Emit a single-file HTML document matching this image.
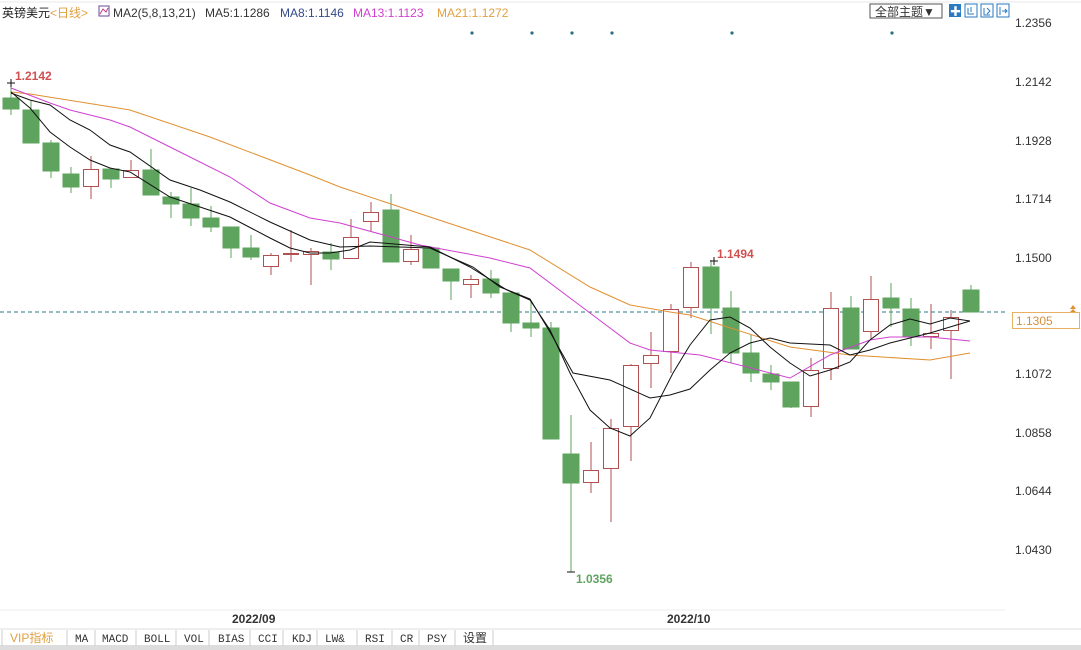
<!DOCTYPE html>
<html><head><meta charset="utf-8"><style>
html,body{margin:0;padding:0;background:#fff;}
body{width:1081px;height:650px;overflow:hidden;position:relative;font-family:"Liberation Sans","Noto Sans CJK SC",sans-serif;}
svg{position:absolute;left:0;top:0;}
</style></head><body>
<svg width="1081" height="650" viewBox="0 0 1081 650" xmlns="http://www.w3.org/2000/svg" font-family="Liberation Sans, Noto Sans CJK SC, sans-serif">
<rect x="0" y="0" width="1081" height="650" fill="#fff"/>
<line x1="0" y1="2" x2="1081" y2="2" stroke="#e8e8e8"/>
<!-- header -->
<text x="2" y="17" font-size="12" fill="#222">英镑美元</text>
<text x="50" y="17" font-size="12" fill="#e0a040">&lt;日线&gt;</text>
<rect x="99" y="6" width="10" height="10" fill="#fff" stroke="#6a4a9a"/>
<polyline points="100,14 103,9 106,12 108,8" fill="none" stroke="#c04080"/>
<text x="113" y="17" font-size="12" fill="#333">MA2(5,8,13,21)</text>
<text x="205" y="17" font-size="12" fill="#333">MA5:1.1286</text>
<text x="280" y="17" font-size="12" fill="#334a8a">MA8:1.1146</text>
<text x="353" y="17" font-size="12" fill="#d040d0">MA13:1.1123</text>
<text x="437" y="17" font-size="12" fill="#e0a040">MA21:1.1272</text>
<rect x="870" y="4" width="72" height="14" fill="#fff" stroke="#555"/>
<text x="875" y="16" font-size="12" fill="#333">全部主题▼</text>
<rect x="949" y="4" width="12" height="13" fill="#2a7ac0"/>
<text x="950" y="15" font-size="11" fill="#fff">✚</text>
<rect x="965" y="4" width="12" height="13" fill="#fff" stroke="#2a7ac0"/>
<rect x="981" y="4" width="12" height="13" fill="#fff" stroke="#2a7ac0"/>
<rect x="997" y="4" width="12" height="13" fill="#fff" stroke="#2a7ac0"/>
<path d="M968 8v6h6M971 7v5M984 8v7h6M987 8l3 3-3 3M1000 7v8M1002 11h5M1005 9l2 2-2 2" stroke="#2a7ac0" fill="none"/>
<!-- axis labels -->
<g font-size="12" fill="#333">
<text x="1015" y="27">1.2356</text>
<text x="1015" y="86">1.2142</text>
<text x="1015" y="145">1.1928</text>
<text x="1015" y="203">1.1714</text>
<text x="1015" y="262">1.1500</text>
<text x="1015" y="378">1.1072</text>
<text x="1015" y="437">1.0858</text>
<text x="1015" y="495">1.0644</text>
<text x="1015" y="554">1.0430</text>
</g>
<line x1="0" y1="312" x2="1005" y2="312" stroke="#2a7a8a" stroke-dasharray="4,3"/>
<rect x="1012.5" y="312.5" width="67" height="16" fill="#fff" stroke="#e8b060"/>
<text x="1016" y="325" font-size="12" fill="#d09040">1.1305</text>
<path d="M1070 309l3-4 3 4zM1070 312l3-3 3 3z" fill="#e09030"/>
<!-- dots -->
<g fill="#2a6a8a"><circle cx="472" cy="33" r="1.6"/><circle cx="532" cy="33" r="1.6"/><circle cx="572" cy="33" r="1.6"/><circle cx="612" cy="33" r="1.6"/><circle cx="732" cy="33" r="1.6"/><circle cx="892" cy="33" r="1.6"/></g>
<!-- candles green -->
<g fill="#5ea35e" stroke="#5ea35e">
<line x1="11" y1="82" x2="11" y2="115"/><rect x="3" y="98" width="16" height="11"/>
<line x1="31" y1="100" x2="31" y2="143"/><rect x="23" y="110" width="16" height="33"/>
<line x1="51" y1="140" x2="51" y2="178"/><rect x="43" y="143" width="16" height="28"/>
<line x1="71" y1="167" x2="71" y2="193"/><rect x="63" y="174" width="16" height="13"/>
<line x1="111" y1="169" x2="111" y2="188"/><rect x="103" y="169" width="16" height="10"/>
<line x1="151" y1="149" x2="151" y2="195"/><rect x="143" y="170" width="16" height="25"/>
<line x1="171" y1="192" x2="171" y2="218"/><rect x="163" y="197" width="16" height="7"/>
<line x1="191" y1="188" x2="191" y2="226"/><rect x="183" y="204" width="16" height="14"/>
<line x1="211" y1="206" x2="211" y2="232"/><rect x="203" y="218" width="16" height="9"/>
<line x1="231" y1="227" x2="231" y2="258"/><rect x="223" y="227" width="16" height="21"/>
<line x1="251" y1="235" x2="251" y2="260"/><rect x="243" y="248" width="16" height="9"/>
<line x1="331" y1="243" x2="331" y2="270"/><rect x="323" y="252" width="16" height="7"/>
<line x1="391" y1="194" x2="391" y2="262"/><rect x="383" y="210" width="16" height="52"/>
<line x1="431" y1="248" x2="431" y2="268"/><rect x="423" y="248" width="16" height="20"/>
<line x1="451" y1="269" x2="451" y2="300"/><rect x="443" y="269" width="16" height="12"/>
<line x1="491" y1="270" x2="491" y2="298"/><rect x="483" y="279" width="16" height="14"/>
<line x1="511" y1="292" x2="511" y2="332"/><rect x="503" y="293" width="16" height="30"/>
<line x1="531" y1="300" x2="531" y2="337"/><rect x="523" y="323" width="16" height="5"/>
<line x1="551" y1="322" x2="551" y2="439"/><rect x="543" y="328" width="16" height="111"/>
<line x1="571" y1="415" x2="571" y2="572"/><rect x="563" y="454" width="16" height="29"/>
<line x1="711" y1="260" x2="711" y2="334"/><rect x="703" y="267" width="16" height="41"/>
<line x1="731" y1="291" x2="731" y2="363"/><rect x="723" y="308" width="16" height="45"/>
<line x1="751" y1="335" x2="751" y2="382"/><rect x="743" y="353" width="16" height="20"/>
<line x1="771" y1="365" x2="771" y2="390"/><rect x="763" y="374" width="16" height="8"/>
<line x1="791" y1="382" x2="791" y2="408"/><rect x="783" y="382" width="16" height="25"/>
<line x1="851" y1="296" x2="851" y2="349"/><rect x="843" y="308" width="16" height="41"/>
<line x1="891" y1="283" x2="891" y2="327"/><rect x="883" y="298" width="16" height="10"/>
<line x1="911" y1="298" x2="911" y2="346"/><rect x="903" y="309" width="16" height="27"/>
<line x1="971" y1="285" x2="971" y2="312"/><rect x="963" y="290" width="16" height="22"/>
</g>
<!-- candles red hollow -->
<g fill="#fff" stroke="#b05050">
<line x1="91" y1="156" x2="91" y2="199"/><rect x="83.5" y="169.5" width="15" height="17"/>
<line x1="131" y1="160" x2="131" y2="178"/><rect x="123.5" y="170.5" width="15" height="7"/>
<line x1="271" y1="253" x2="271" y2="275"/><rect x="263.5" y="255.5" width="15" height="11"/>
<line x1="291" y1="230" x2="291" y2="262"/><rect x="283.5" y="253.5" width="15" height="1"/>
<line x1="311" y1="248" x2="311" y2="285"/><rect x="303.5" y="251.5" width="15" height="3"/>
<line x1="351" y1="219" x2="351" y2="259"/><rect x="343.5" y="237.5" width="15" height="21"/>
<line x1="371" y1="202" x2="371" y2="232"/><rect x="363.5" y="212.5" width="15" height="9"/>
<line x1="411" y1="235" x2="411" y2="265"/><rect x="403.5" y="249.5" width="15" height="12"/>
<line x1="471" y1="275" x2="471" y2="298"/><rect x="463.5" y="279.5" width="15" height="5"/>
<line x1="591" y1="442" x2="591" y2="493"/><rect x="583.5" y="470.5" width="15" height="12"/>
<line x1="611" y1="419" x2="611" y2="522"/><rect x="603.5" y="428.5" width="15" height="40"/>
<line x1="631" y1="364" x2="631" y2="461"/><rect x="623.5" y="365.5" width="15" height="61"/>
<line x1="651" y1="332" x2="651" y2="388"/><rect x="643.5" y="355.5" width="15" height="8"/>
<line x1="671" y1="304" x2="671" y2="373"/><rect x="663.5" y="309.5" width="15" height="42"/>
<line x1="691" y1="262" x2="691" y2="318"/><rect x="683.5" y="267.5" width="15" height="40"/>
<line x1="811" y1="358" x2="811" y2="417"/><rect x="803.5" y="370.5" width="15" height="36"/>
<line x1="831" y1="292" x2="831" y2="380"/><rect x="823.5" y="308.5" width="15" height="60"/>
<line x1="871" y1="276" x2="871" y2="339"/><rect x="863.5" y="299.5" width="15" height="32"/>
<line x1="931" y1="304" x2="931" y2="349"/><rect x="923.5" y="333.5" width="15" height="3"/>
<line x1="951" y1="310" x2="951" y2="379"/><rect x="943.5" y="317.5" width="15" height="13"/>
</g>
<!-- MAs -->
<polyline fill="none" stroke="#e09030" stroke-width="1" points="11,92 30,94 130,110 210,137 310,175 340,187 430,217 530,250 590,287 630,305 670,312 690,315 790,347 850,355 930,360 970,353"/>
<polyline fill="none" stroke="#d040d0" stroke-width="1" points="11,88 50,103 70,110 110,120 130,127 170,147 230,177 270,203 310,218 340,223 420,245 490,258 530,268 590,313 630,343 650,350 680,353 700,355 790,378 830,355 870,340 890,337 930,337 970,341"/>
<polyline fill="none" stroke="#111" stroke-width="1" points="11,93 30,100 50,105 70,120 90,130 110,145 130,152 170,180 200,190 230,202 270,222 310,240 340,247 370,246 430,248 450,257 473,267 500,287 530,299 550,332 573,373 610,380 650,398 670,395 690,389 710,370 730,353 750,343 770,338 790,343 830,345 850,355 870,350 890,343 910,338 930,333 950,327 970,321"/>
<polyline fill="none" stroke="#111" stroke-width="1" points="11,92 30,108 50,132 70,147 90,160 110,168 130,172 170,197 230,217 270,238 290,248 310,253 330,253 350,250 370,242 430,247 470,267 507,290 530,300 550,330 570,373 590,410 610,428 630,436 650,418 673,373 690,345 710,320 730,317 750,328 770,347 790,363 810,376 830,370 850,362 870,340 890,325 910,319 930,324 950,318 970,321"/>
<!-- markers -->
<path d="M7 83h8M11 79v8M567 572h8M710 261h8M714 257v8" stroke="#111"/>
<text x="15" y="80" font-size="12" font-weight="bold" fill="#d05050">1.2142</text>
<text x="717" y="258" font-size="12" font-weight="bold" fill="#d05050">1.1494</text>
<text x="576" y="583" font-size="12" font-weight="bold" fill="#5ea35e">1.0356</text>
<!-- date axis -->
<line x1="0" y1="610" x2="1005" y2="610" stroke="#eee"/>
<line x1="0" y1="629" x2="1081" y2="629" stroke="#ddd"/>
<text x="232" y="623" font-size="12" font-weight="bold" fill="#333">2022/09</text>
<text x="667" y="623" font-size="12" font-weight="bold" fill="#333">2022/10</text>
<!-- tab bar -->
<rect x="0" y="630" width="1081" height="16" fill="#fff"/>
<rect x="0" y="645" width="1081" height="5" fill="#ddd"/>
<g font-family="Liberation Mono, Noto Sans CJK SC, monospace" font-size="11" fill="#333">
<text x="10" y="642" fill="#e0a040" font-family="Liberation Sans, Noto Sans CJK SC, sans-serif" font-size="12">VIP指标</text>
<text x="75" y="642">MA</text>
<text x="102" y="642">MACD</text>
<text x="144" y="642">BOLL</text>
<text x="184" y="642">VOL</text>
<text x="218" y="642">BIAS</text>
<text x="258" y="642">CCI</text>
<text x="292" y="642">KDJ</text>
<text x="325" y="642">LW&amp;</text>
<text x="365" y="642">RSI</text>
<text x="400" y="642">CR</text>
<text x="427" y="642">PSY</text>
<text x="463" y="642" font-family="Liberation Sans, Noto Sans CJK SC, sans-serif" font-size="12">设置</text>
</g>
<g stroke="#ccc"><line x1="2" y1="630" x2="2" y2="646"/><line x1="67" y1="630" x2="67" y2="646"/><line x1="95" y1="630" x2="95" y2="646"/><line x1="136" y1="630" x2="136" y2="646"/><line x1="176" y1="630" x2="176" y2="646"/><line x1="209" y1="630" x2="209" y2="646"/><line x1="250" y1="630" x2="250" y2="646"/><line x1="283" y1="630" x2="283" y2="646"/><line x1="317" y1="630" x2="317" y2="646"/><line x1="357" y1="630" x2="357" y2="646"/><line x1="392" y1="630" x2="392" y2="646"/><line x1="419" y1="630" x2="419" y2="646"/><line x1="455" y1="630" x2="455" y2="646"/><line x1="493" y1="630" x2="493" y2="646"/></g>
</svg>
</body></html>
